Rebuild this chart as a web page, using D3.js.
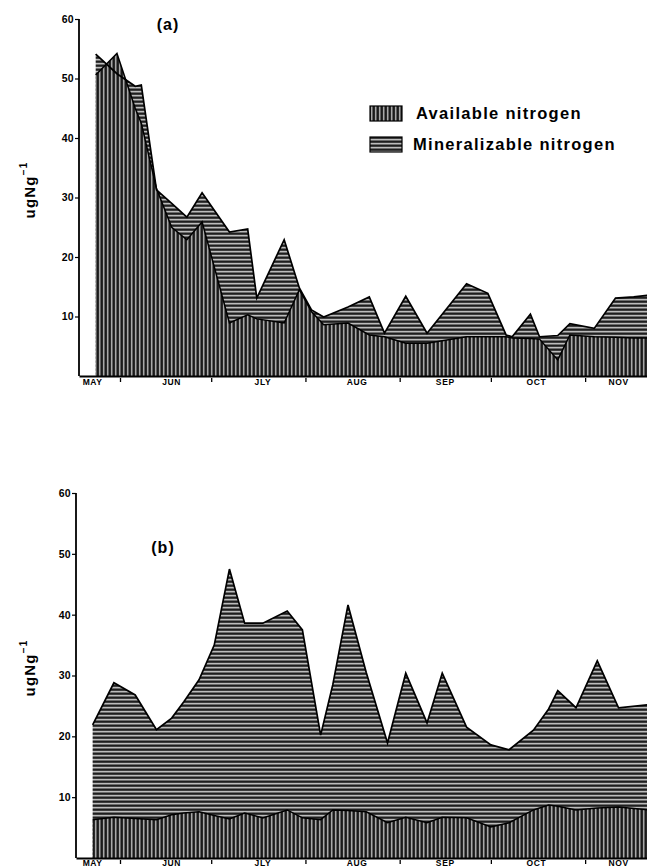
<!DOCTYPE html>
<html><head><meta charset="utf-8">
<script src="https://cdn.jsdelivr.net/npm/d3@7"></script>
<style>body{margin:0;background:#fff}svg{display:block}</style>
</head><body>
<svg id="chart" width="647" height="867"></svg>
<script>
// ---------- data (x = days after 1 May) ----------
const monthLabels = ["MAY","JUN","JLY","AUG","SEP","OCT","NOV"];
const monthLabelDays = [22, 48, 78, 109, 138, 168, 195];
const monthBoundaryDays = [31, 61, 92, 123, 153, 184];
const yTicks = [10, 20, 30, 40, 50, 60];
const legendLabels = ["Available nitrogen", "Mineralizable nitrogen"];

// panel (a)
const daysA = [23,30,36,38,43,48,53,58,67,73,76,85,90,94,98,106,113,118,125,132,145,152,158,160,166,169,175,179,187,194,200,205];
const availableA = [50.6,54.2,45,42.5,31.5,25,22.9,25.9,8.9,10.3,9.6,8.9,14.5,10.8,8.6,8.9,6.9,6.6,5.5,5.5,6.6,6.6,6.6,6.4,6.3,6.2,2.7,6.9,6.6,6.5,6.4,6.4];
const mineralizableA = [54.1,50.8,48.7,48.9,31.3,29,26.7,30.8,24.2,24.7,13.1,22.9,14.8,11.1,9.9,11.6,13.3,7.2,13.4,7.2,15.5,13.9,6.9,6.6,10.4,6.6,6.8,8.8,8.0,13.1,13.3,13.6];

// panel (b)
const daysB = [22,29,36,43,48,52,57,62,67,72,78,86,91,97,101,106,112,119,125,132,137,145,153,159,167,172,175,181,188,195,205];
const mineralizableB = [21.9,28.8,26.8,21.1,23.0,25.7,29.3,35.0,47.5,38.6,38.6,40.6,37.5,20.2,28.5,41.6,30.5,18.9,30.4,22.2,30.4,21.5,18.6,17.8,21.0,24.5,27.5,24.7,32.4,24.7,25.2];
const availableB = [6.3,6.7,6.5,6.3,7.1,7.4,7.6,7.0,6.4,7.4,6.6,7.9,6.6,6.3,7.9,7.8,7.6,5.8,6.7,5.8,6.7,6.6,5.1,5.8,7.9,8.7,8.5,7.9,8.2,8.4,7.9];

// ---------- drawing ----------
const svg = d3.select("#chart");
const W = 647;
const defs = svg.append("defs");

// vertical hatch (available)
const pv = defs.append("pattern").attr("id","vhatch").attr("patternUnits","userSpaceOnUse")
  .attr("width",4).attr("height",4);
pv.append("rect").attr("width",4).attr("height",4).attr("fill","#a8a8a8");
pv.append("rect").attr("x",0.5).attr("width",2.4).attr("height",4).attr("fill","#1a1a1a");
// horizontal hatch (mineralizable)
const ph = defs.append("pattern").attr("id","hhatch").attr("patternUnits","userSpaceOnUse")
  .attr("width",4).attr("height",4);
ph.append("rect").attr("width",4).attr("height",4).attr("fill","#bcbcbc");
ph.append("rect").attr("y",0.5).attr("width",4).attr("height",2.3).attr("fill","#1e1e1e");

const font = "'Liberation Sans', Arial, Helvetica, sans-serif";

function panel(cfg){
  const g = svg.append("g");
  const pxPerDay = 3.04;
  const x = d3.scaleLinear()
    .domain([31 - (120 - cfg.left)/pxPerDay, 31 + (W - 120)/pxPerDay])
    .range([cfg.left, W]);
  const y = d3.scaleLinear().domain([0,60]).range([cfg.bottom, cfg.top]);

  const clipId = "clip" + cfg.id;
  defs.append("clipPath").attr("id", clipId).append("rect")
    .attr("x", cfg.left).attr("y", cfg.top - 5).attr("width", W - cfg.left).attr("height", cfg.bottom - cfg.top + 5);

  const mk = (days, vals) => days.map((d,i)=>({d, v: vals[i]}));
  const area = d3.area().x(p=>x(p.d)).y0(y(0)).y1(p=>y(p.v));
  const line = d3.line().x(p=>x(p.d)).y(p=>y(p.v));

  const plot = g.append("g").attr("clip-path", `url(#${clipId})`);
  const mData = mk(cfg.days, cfg.mineral);
  const aData = mk(cfg.days, cfg.avail);
  plot.append("path").datum(mData).attr("d", area).attr("fill","url(#hhatch)");
  plot.append("path").datum(aData).attr("d", area).attr("fill","url(#vhatch)");
  plot.append("path").datum(mData).attr("d", line).attr("fill","none").attr("stroke","#000").attr("stroke-width",1.7).attr("stroke-linejoin","miter");
  plot.append("path").datum(aData).attr("d", line).attr("fill","none").attr("stroke","#000").attr("stroke-width",1.5).attr("stroke-linejoin","miter");

  // y axis
  const ya = g.append("g").attr("transform", `translate(${cfg.left},0)`)
    .call(d3.axisLeft(y).tickValues(yTicks).tickSize(4).tickSizeOuter(0).tickPadding(1).tickFormat(d3.format("d")));
  ya.select(".domain").attr("d", `M0,${y(60)}V${y(0)}`).attr("stroke","#000").attr("stroke-width",1.8);
  ya.selectAll(".tick line").attr("stroke","#000").attr("stroke-width",1.2);
  ya.selectAll(".tick text").attr("font-family",font).attr("font-size",10.5).attr("font-weight","bold").attr("fill","#000").attr("letter-spacing",0.3);

  // x axis
  const xa = g.append("g").attr("transform", `translate(0,${cfg.bottom})`)
    .call(d3.axisBottom(x).tickValues(monthBoundaryDays).tickSize(6).tickSizeOuter(0).tickFormat(""));
  xa.select(".domain").attr("stroke","#000").attr("stroke-width",1.8);
  xa.selectAll(".tick line").attr("stroke","#000").attr("stroke-width",1.3).attr("y1",2);
  g.append("g").selectAll("text").data(monthLabels).join("text")
    .attr("x",(d,i)=>x(monthLabelDays[i])).attr("y", cfg.labelY)
    .attr("text-anchor","middle").attr("font-family",font).attr("font-size",8.5)
    .attr("font-weight","bold").attr("letter-spacing",0.6).text(d=>d);

  // y label
  const yl = g.append("text").attr("transform", `translate(${cfg.ylabX},${cfg.ylabY}) rotate(-90)`)
    .attr("text-anchor","middle").attr("dominant-baseline","central")
    .attr("font-family",font).attr("font-size",15).attr("font-weight","600").attr("letter-spacing",1.2);
  yl.append("tspan").text("ugNg");
  yl.append("tspan").attr("font-size",10).attr("dy",-6).text("\u22121");

  // title
  g.append("text").attr("x", cfg.titleX).attr("y", cfg.titleY).attr("text-anchor","middle")
    .attr("font-family",font).attr("font-size",16).attr("font-weight","600").attr("letter-spacing",1).text(cfg.title);
}

panel({id:"a", left:79, top:19, bottom:376, labelY:385, days:daysA, avail:availableA, mineral:mineralizableA,
  ylabX:29, ylabY:190, title:"(a)", titleX:168, titleY:30});
panel({id:"b", left:76, top:493, bottom:858, labelY:866, days:daysB, avail:availableB, mineral:mineralizableB,
  ylabX:29, ylabY:668, title:"(b)", titleX:163, titleY:553});

// legend
const lg = svg.append("g");
const fills = ["url(#vhatch)", "url(#hhatch)"];
const legY = [106, 137];
lg.selectAll("rect").data(legendLabels).join("rect")
  .attr("x",370).attr("y",(d,i)=>legY[i]).attr("width",32).attr("height",15)
  .attr("fill",(d,i)=>fills[i]).attr("stroke","#000").attr("stroke-width",1.2);
lg.selectAll("text").data(legendLabels).join("text")
  .attr("x",(d,i)=> i===0 ? 416 : 413).attr("y",(d,i)=>legY[i]+12.5)
  .attr("font-family",font).attr("font-size",16.5).attr("font-weight","bold").attr("letter-spacing",1.3)
  .text(d=>d);
</script>
</body></html>
